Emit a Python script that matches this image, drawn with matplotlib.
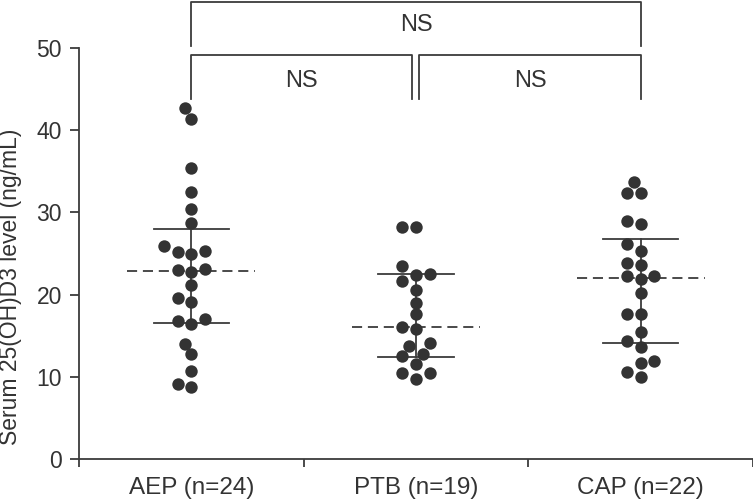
import numpy as np
import matplotlib.pyplot as plt

plt.rcParams['font.family'] = ['Liberation Sans', 'DejaVu Sans']

# Serum 25(OH)D3 (ng/mL)
groups = ['AEP (n=24)', 'PTB (n=19)', 'CAP (n=22)']
aep = [8.8, 9.1, 10.7, 12.8, 13.95, 16.4, 16.8, 17.0, 19.1, 19.6, 21.2, 22.8,
       22.96, 23.1, 24.9, 25.2, 25.3, 25.95, 28.7, 30.4, 32.5, 35.4, 41.4, 42.7]
ptb = [9.7, 10.5, 10.5, 11.6, 12.5, 12.8, 13.7, 14.1, 15.8, 16.1, 17.6, 19.0,
       20.6, 21.65, 22.4, 22.5, 23.5, 28.25, 28.25]
cap = [9.95, 10.6, 11.7, 11.95, 13.6, 14.35, 15.4, 17.6, 17.6, 20.2, 21.9,
       22.3, 22.3, 23.6, 23.8, 25.35, 26.15, 28.55, 28.9, 32.3, 32.3, 33.65]
centre = [22.85, 16.1, 22.05]   # dashed line
upper = [28.0, 22.5, 26.75]
lower = [16.5, 12.45, 14.15]

dark = '#333333'
line_c = '#3c3c3c'

fig = plt.figure(figsize=(7.53, 5.0), dpi=100)
ax = fig.add_axes([0.1049, 0.082, 0.8951, 0.9174])
ymax = 55.8
ax.set_xlim(0, 3)
ax.set_ylim(0, ymax)

# pixels per data unit, for the swarm layout
px_x = 0.8951 * 753 / 3
px_y = 0.9174 * 500 / ymax
lane = 6.8      # px
min_d = 11.5    # px


def swarm(vals):
    placed = []
    offs = []
    for v in vals:
        y = v * px_y
        k = 0
        order = [0] + [s * i for i in range(1, 10) for s in (-1, 1)]
        for k in order:
            x = k * lane
            if all((x - px) ** 2 + (y - py) ** 2 >= min_d ** 2 for px, py in placed):
                break
        placed.append((k * lane, y))
        offs.append(k * lane / px_x)
    return np.array(offs)


for i, vals in enumerate([aep, ptb, cap]):
    xc = i + 0.5
    ax.scatter(xc + swarm(vals), vals, s=80, color=dark, zorder=3, linewidths=0)
    ax.plot([xc, xc], [lower[i], upper[i]], color=line_c, lw=1.3, zorder=2)
    for yv in (lower[i], upper[i]):
        ax.plot([xc - 0.167, xc + 0.167], [yv, yv], color=line_c, lw=1.3, zorder=2)
    ax.plot([xc - 0.285, xc + 0.285], [centre[i], centre[i]], color=line_c,
            lw=1.3, ls=(0, (5.6, 3.2)), zorder=2)

# significance brackets
def bracket(x0, x1, ytop, ybot, label, ytxt):
    ax.plot([x0, x0, x1, x1], [ybot, ytop, ytop, ybot], color=line_c, lw=1.3,
            clip_on=False)
    ax.text((x0 + x1) / 2, ytxt, label, ha='center', va='center', fontsize=17,
            color='#333333')

bracket(0.5, 2.5, 55.65, 50.2, 'NS', 52.85)
bracket(0.5, 1.48, 49.1, 43.85, 'NS', 45.95)
bracket(1.515, 2.5, 49.1, 43.85, 'NS', 45.95)

for s in ('top', 'right'):
    ax.spines[s].set_visible(False)
ax.spines['left'].set_bounds(0, 50)
for s in ('left', 'bottom'):
    ax.spines[s].set_color(line_c)
    ax.spines[s].set_linewidth(1.3)

ax.set_yticks([0, 10, 20, 30, 40, 50])
ax.tick_params(axis='y', length=6.2, width=1.3, color=line_c, pad=6,
               labelsize=16.5, labelcolor='#333333')
ax.set_xticks([0, 1, 2, 3])
ax.set_xticklabels([])
ax.tick_params(axis='x', which='major', length=6, width=1.3, color=line_c)
ax.set_xticks([0.5, 1.5, 2.5], minor=True)
ax.set_xticklabels(groups, minor=True)
ax.tick_params(axis='x', which='minor', length=0, pad=13, labelsize=17.5,
               labelcolor='#333333')

ax.set_ylabel('Serum 25(OH)D3 level (ng/mL)', fontsize=16.5, color='#333333')
ax.yaxis.set_label_coords(-0.085, 0.375)

fig.savefig('out.png', dpi=100)
